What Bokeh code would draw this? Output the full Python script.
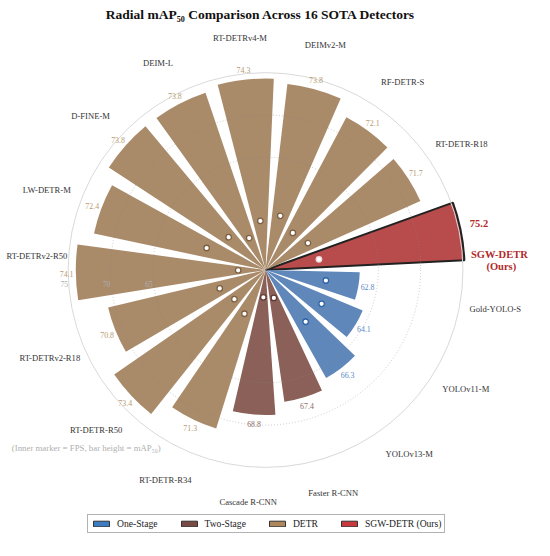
import math
from bokeh.plotting import figure
from bokeh.models import Range1d, Legend, LegendItem, ColumnDataSource
from bokeh.core.properties import value
from bokeh.embed import file_html
from bokeh.resources import INLINE

# ---------------- data ----------------
models = ["SGW-DETR", "Gold-YOLO-S", "YOLOv11-M", "YOLOv13-M", "Faster R-CNN",
          "Cascade R-CNN", "RT-DETR-R34", "RT-DETR-R50", "RT-DETRv2-R18",
          "RT-DETRv2-R50", "LW-DETR-M", "D-FINE-M", "DEIM-L", "RT-DETRv4-M",
          "DEIMv2-M", "RF-DETR-S", "RT-DETR-R18"]
map50 = [75.2, 62.8, 64.1, 66.3, 67.4, 68.8, 71.3, 73.4, 70.8, 74.1, 72.4,
         73.8, 73.8, 74.3, 73.8, 72.1, 71.7]
# radial position of the inner FPS marker (read in mAP-axis units)
fps_marker = [58.1, 58.9, 59.4, 59.4, 55.1, 54.9, 57.4, 56.7, 57.5, 54.9,
              59.1, 57.5, 55.9, 57.5, 58.3, 57.1, 57.6]
groups = (["Ours"] + ["One-Stage"] * 3 + ["Two-Stage"] * 2 + ["DETR"] * 11)
r_ticks = [65, 70, 75]
legend_names = ["One-Stage", "Two-Stage", "DETR", "SGW-DETR (Ours)"]
legend_keys = ["One-Stage", "Two-Stage", "DETR", "Ours"]

# ---------------- style / layout ----------------
FONT = "Liberation Serif"
bar_fill = {"Ours": "#b84c4c", "One-Stage": "#6087ba", "Two-Stage": "#8a6058", "DETR": "#a98a69"}
legend_fill = {"Ours": "#c8383d", "One-Stage": "#3d7cc0", "Two-Stage": "#7a4a44", "DETR": "#ae875c"}
mark_edge = {"Ours": "#f0d8d8", "One-Stage": "#2d64a8", "Two-Stage": "#5e3a34", "DETR": "#7d6043"}
val_color = {"One-Stage": "#5b8bc4", "Two-Stage": "#8e6a62", "DETR": "#b89a72"}
# per-label angular nudge (deg) and radius for the model names
name_dtheta = {9: -4.5}
name_radius = {9: 236}

R_ORIGIN = 51.66   # value at the centre
PX = 8.71          # units per mAP point
def R(v):
    return (v - R_ORIGIN) * PX

n = len(models)
step = 2 * math.pi / n
theta0 = math.radians(11.3)
thetas = [theta0 - i * step for i in range(n)]
half = 0.4 * step

p = figure(width=534, height=540, x_range=Range1d(-273, 277), y_range=Range1d(-278.5, 277.5),
           output_backend="svg", toolbar_location=None, min_border=0,
           x_axis_type=None, y_axis_type=None)
p.grid.visible = False
p.outline_line_color = None
p.background_fill_color = "white"

# bars
src = ColumnDataSource(dict(
    r=[R(v) for v in map50],
    s=[t - half for t in thetas],
    e=[t + half for t in thetas],
    c=[bar_fill[g] for g in groups],
    lc=["#222222" if g == "Ours" else None for g in groups],
    lw=[2.0 if g == "Ours" else 0 for g in groups],
))
p.wedge(x=0, y=0, radius="r", start_angle="s", end_angle="e", fill_color="c",
        line_color="lc", line_width="lw", source=src)

# grid circles (over bars) and frame
p.circle(x=[0, 0], y=[0, 0], radius=[R(v) for v in r_ticks[:-1]], fill_color=None,
         line_color="#8c8c8c", line_alpha=0.55, line_width=0.8, line_dash="1 2")
p.circle(x=[0], y=[0], radius=[R(r_ticks[-1])], fill_color=None,
         line_color="#d9d9d9", line_width=1)

# radial tick labels
p.text(x=[-R(v) - 4 for v in r_ticks], y=[-14.5] * len(r_ticks), text=[str(v) for v in r_ticks],
       text_font=value(FONT), text_font_size="7.8px", text_color="#b0b0b0",
       text_align="center", text_baseline="middle")

# FPS markers
p.scatter(x=[R(m) * math.cos(t) for m, t in zip(fps_marker, thetas)],
          y=[R(m) * math.sin(t) for m, t in zip(fps_marker, thetas)],
          size=5.5, fill_color="white", line_color=[mark_edge[g] for g in groups], line_width=1.3)

# value labels
off = math.radians(0.3)
vi = [i for i in range(n) if groups[i] != "Ours"]
p.text(x=[(R(map50[i]) + 9.5) * math.cos(thetas[i] + off) for i in vi],
       y=[(R(map50[i]) + 9.5) * math.sin(thetas[i] + off) for i in vi],
       text=[f"{map50[i]:.1f}" for i in vi], text_color=[val_color[groups[i]] for i in vi],
       text_font=value(FONT), text_font_size="7.9px", text_align="center", text_baseline="middle")

# model names
def name_xy(i):
    a = thetas[i] + off + math.radians(name_dtheta.get(i, 0))
    r = name_radius.get(i, 240)
    return r * math.cos(a), r * math.sin(a)
nxy = [name_xy(i) for i in vi]
p.text(x=[q[0] for q in nxy], y=[q[1] for q in nxy],
       text=[models[i] for i in vi], text_color="#333333",
       text_font=value(FONT), text_font_size="8.6px", text_align="center", text_baseline="middle")

# ours
ti = 0
p.text(x=[(R(map50[ti]) + 20) * math.cos(thetas[ti] + math.radians(1))],
       y=[(R(map50[ti]) + 20) * math.sin(thetas[ti] + math.radians(1))],
       text=[f"{map50[ti]:.1f}"], text_color="#b22a2a", text_font=value(FONT),
       text_font_size="10.5px", text_font_style="bold", text_align="center", text_baseline="middle")
ang = thetas[ti] - math.radians(9)
cx, cy = 241 * math.cos(ang), 241 * math.sin(ang)
p.text(x=[cx, cx + 2], y=[cy + 6.5, cy - 6.5], text=[models[ti], "(Ours)"], text_color="#b22a2a",
       text_font=value(FONT), text_font_size="10.5px", text_font_style="bold",
       text_align="center", text_baseline="middle")

# title and note
p.text(x=[-5], y=[263.5], text=["Radial mAP\u2085\u2080 Comparison Across 16 SOTA Detectors"],
       text_color="#111111", text_font=value(FONT), text_font_size="13.5px", text_font_style="bold",
       text_align="center", text_baseline="middle")
p.text(x=[-183.5], y=[-183.5], text=["(Inner marker = FPS,  bar height = mAP\u2085\u2080)"],
       text_color="#b0b0b0", text_font=value(FONT), text_font_size="8.8px",
       text_align="center", text_baseline="middle")

# legend (proxy glyphs with no drawable coordinates)
nan = float("nan")
items = []
for name, key in zip(legend_names, legend_keys):
    rr = p.quad(left=[nan], right=[nan], top=[nan], bottom=[nan], fill_color=legend_fill[key],
                line_color="#333333", line_width=1)
    items.append(LegendItem(label=name, renderers=[rr]))
legend = Legend(items=items, orientation="horizontal", location=(87, 7), margin=0,
                padding=3, spacing=21, label_standoff=6, glyph_width=20, glyph_height=7,
                label_height=8, label_text_font=FONT, label_text_font_size="9.6px",
                label_text_color="#222222", border_line_color="#666666", border_line_width=1,
                background_fill_alpha=1)
p.add_layout(legend)

open("out.html", "w").write(file_html(p, INLINE))
